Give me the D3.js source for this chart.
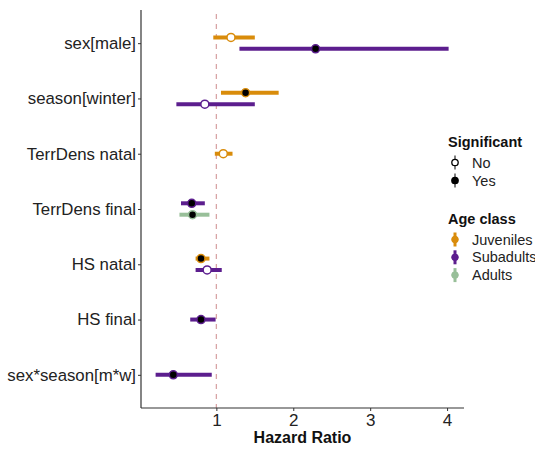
<!DOCTYPE html>
<html>
<head>
<meta charset="utf-8">
<script src="https://cdn.jsdelivr.net/npm/d3@7"></script>
<style>
  body { margin: 0; background: #fff; }
  text { font-family: "Liberation Sans", Arial, sans-serif; }
</style>
</head>
<body>
<div id="chart"></div>
<script>
// terms on the y axis, top to bottom
const terms = ["sex[male]", "season[winter]", "TerrDens natal", "TerrDens final", "HS natal", "HS final", "sex*season[m*w]"];
const ageClasses = ["Juveniles", "Subadults", "Adults"];
const ageColors = ["#D98C0B", "#5C1E8E", "#98BF99"];
const xTicks = [1, 2, 3, 4];

// one row per estimate
const rowTerm = ["sex[male]", "sex[male]", "season[winter]", "season[winter]", "TerrDens natal",
  "TerrDens final", "TerrDens final", "HS natal", "HS natal", "HS final", "sex*season[m*w]"];
const rowAge = ["Juveniles", "Subadults", "Juveniles", "Subadults", "Juveniles",
  "Subadults", "Adults", "Juveniles", "Subadults", "Subadults", "Subadults"];
const hr    = [1.19, 2.29, 1.38, 0.85, 1.09, 0.68, 0.69, 0.80, 0.88, 0.80, 0.44];
const lower = [0.96, 1.30, 1.06, 0.48, 0.98, 0.54, 0.52, 0.73, 0.73, 0.66, 0.21];
const upper = [1.50, 4.02, 1.81, 1.50, 1.21, 0.85, 0.91, 0.91, 1.07, 0.99, 0.94];
const significant = ["No", "Yes", "Yes", "No", "No", "Yes", "Yes", "Yes", "No", "Yes", "Yes"];

const rows = hr.map((d, i) => ({
  term: rowTerm[i], age: rowAge[i], hr: d, lo: lower[i], hi: upper[i], sig: significant[i]
}));

const width = 535, height = 449;
const margin = { top: 10, right: 71, bottom: 41, left: 141 };

const svg = d3.select("#chart").append("svg")
  .attr("width", width)
  .attr("height", height);

const x = d3.scaleLinear()
  .domain([0.02, 4.22])
  .range([margin.left, width - margin.right]);

const y = d3.scalePoint()
  .domain(terms)
  .range([margin.top, height - margin.bottom])
  .padding(0.6);

const color = d3.scaleOrdinal().domain(ageClasses).range(ageColors);

// dodge within a term when there are two age classes
const dodge = 5.7;
const perTerm = d3.group(rows, d => d.term);
rows.forEach(d => {
  const grp = perTerm.get(d.term);
  const k = grp.indexOf(d);
  d.y = y(d.term) + (grp.length === 1 ? 0 : (k === 0 ? -dodge : dodge));
});

// reference line at HR = 1
svg.append("line")
  .attr("x1", x(1)).attr("x2", x(1))
  .attr("y1", margin.top + 4).attr("y2", height - margin.bottom)
  .attr("stroke", "#D8A4A6")
  .attr("stroke-width", 1.3)
  .attr("stroke-dasharray", "5,5");

// axes
const xAxis = svg.append("g")
  .attr("transform", `translate(0,${height - margin.bottom})`)
  .call(d3.axisBottom(x).tickValues(xTicks).tickFormat(d3.format("d")).tickSize(3).tickSizeOuter(0));
xAxis.select(".domain").attr("stroke", "#333").attr("stroke-width", 1.2)
  .attr("d", `M${margin.left},0H${width - margin.right}`);
xAxis.selectAll(".tick line").attr("stroke", "#333");
xAxis.selectAll(".tick text").attr("font-size", 17).attr("fill", "#222");

const yAxis = svg.append("g")
  .attr("transform", `translate(${margin.left},0)`)
  .call(d3.axisLeft(y).tickSize(3).tickSizeOuter(0));
yAxis.select(".domain").attr("stroke", "#333").attr("stroke-width", 1.2)
  .attr("d", `M0,${margin.top}V${height - margin.bottom}`);
yAxis.selectAll(".tick line").attr("stroke", "#333");
yAxis.selectAll(".tick text").attr("font-size", 16.8).attr("fill", "#222").attr("x", -5);

svg.append("text")
  .attr("x", (margin.left + width - margin.right) / 2)
  .attr("y", 443)
  .attr("text-anchor", "middle")
  .attr("font-size", 16)
  .attr("font-weight", "bold")
  .attr("fill", "#111")
  .text("Hazard Ratio");

// intervals
svg.append("g").selectAll("line")
  .data(rows)
  .join("line")
  .attr("x1", d => x(d.lo))
  .attr("x2", d => x(d.hi))
  .attr("y1", d => d.y)
  .attr("y2", d => d.y)
  .attr("stroke", d => color(d.age))
  .attr("stroke-width", 4);

// point estimates
svg.append("g").selectAll("circle")
  .data(rows)
  .join("circle")
  .attr("cx", d => x(d.hr))
  .attr("cy", d => d.y)
  .attr("r", 4)
  .attr("fill", d => d.sig === "Yes" ? "#000" : "#fff")
  .attr("stroke", d => color(d.age))
  .attr("stroke-width", 1.5);

// legends
const lx = 455;
const leg = svg.append("g");
leg.append("text").attr("x", 448).attr("y", 147)
  .attr("font-size", 14.5).attr("font-weight", "bold").attr("fill", "#111").text("Significant");

["No", "Yes"].forEach((s, i) => {
  const cy = 162.5 + i * 18;
  leg.append("line").attr("x1", lx).attr("x2", lx).attr("y1", cy - 7).attr("y2", cy + 7)
    .attr("stroke", "#000").attr("stroke-width", 1);
  leg.append("circle").attr("cx", lx).attr("cy", cy).attr("r", 3.2)
    .attr("fill", s === "Yes" ? "#000" : "#fff").attr("stroke", "#000").attr("stroke-width", 1.3);
  leg.append("text").attr("x", 472).attr("y", cy + 5)
    .attr("font-size", 14.5).attr("fill", "#222").text(s);
});

leg.append("text").attr("x", 448).attr("y", 224)
  .attr("font-size", 14.5).attr("font-weight", "bold").attr("fill", "#111").text("Age class");

ageClasses.forEach((a, i) => {
  const cy = 239.5 + i * 17.8;
  leg.append("line").attr("x1", lx).attr("x2", lx).attr("y1", cy - 7).attr("y2", cy + 7)
    .attr("stroke", color(a)).attr("stroke-width", 3);
  leg.append("circle").attr("cx", lx).attr("cy", cy).attr("r", 3.3)
    .attr("fill", color(a)).attr("stroke", color(a)).attr("stroke-width", 1);
  leg.append("text").attr("x", 472).attr("y", cy + 5)
    .attr("font-size", 14.5).attr("fill", "#222").text(a);
});
</script>
</body>
</html>
